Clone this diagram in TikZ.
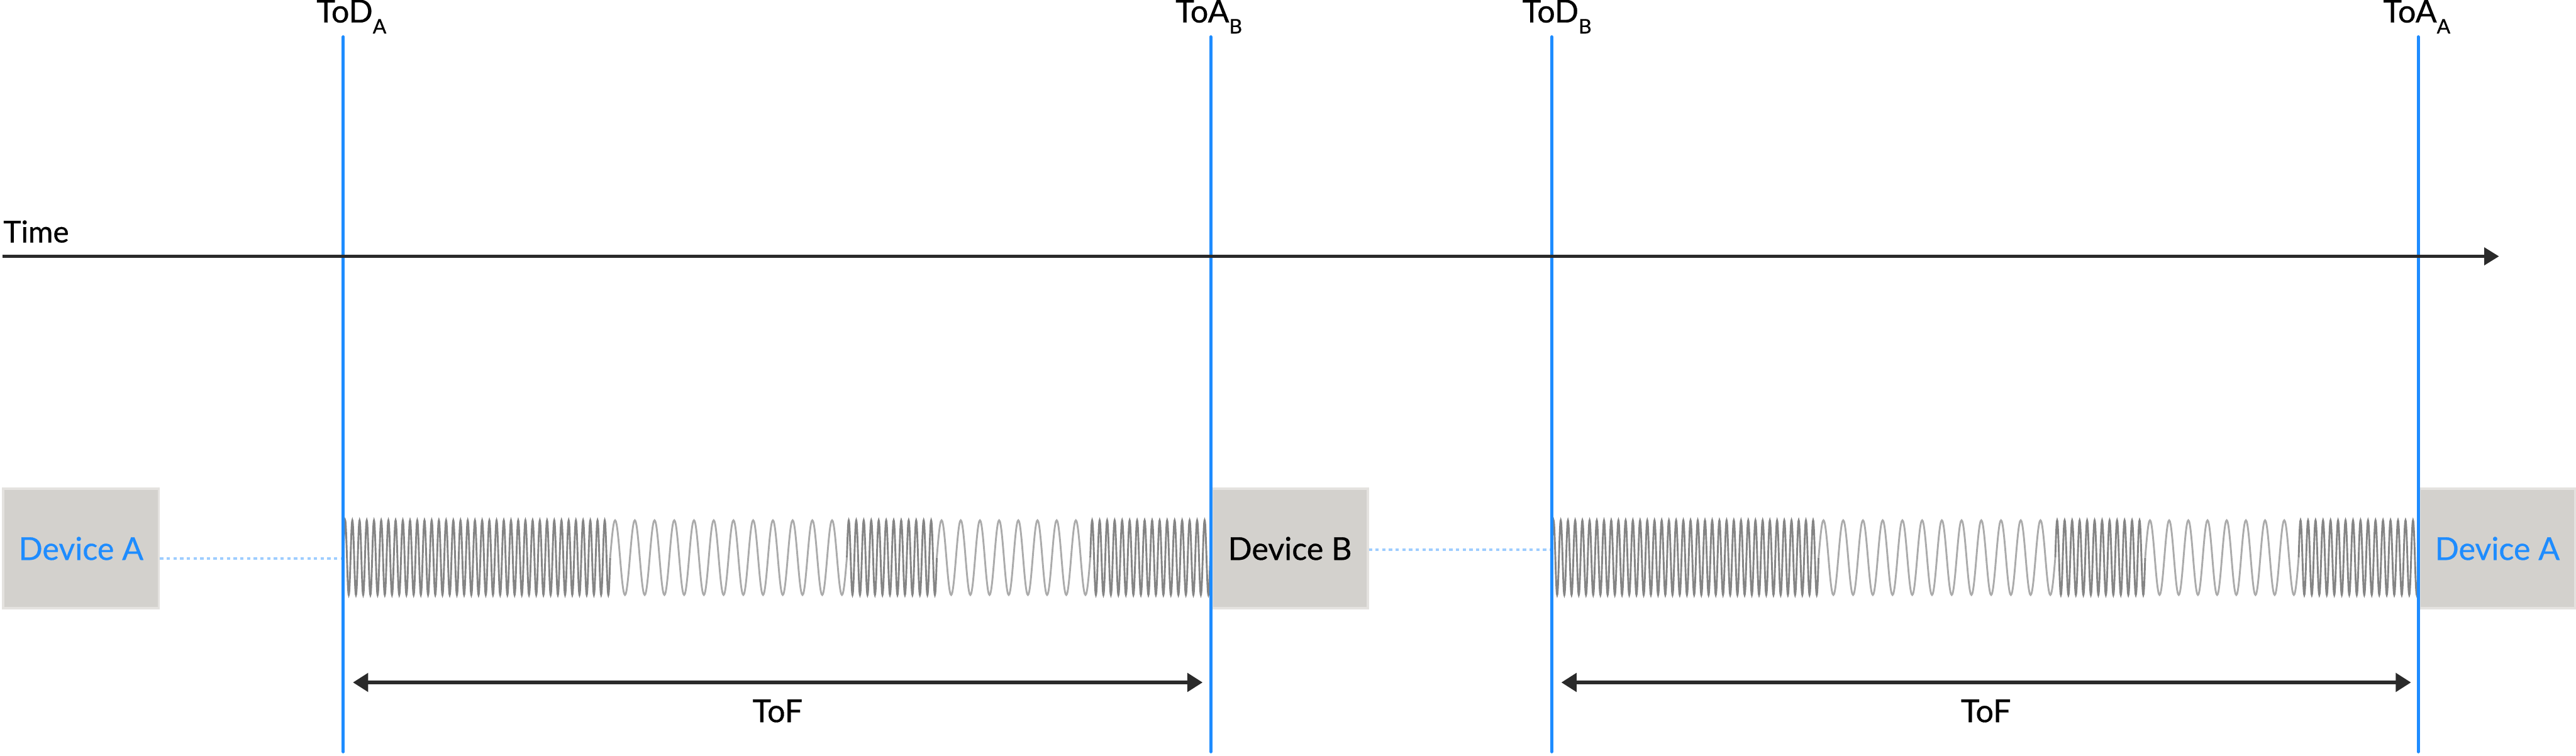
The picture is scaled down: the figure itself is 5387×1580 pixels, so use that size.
\documentclass[tikz,border=0pt]{standalone}
\usepackage{fontspec}
\setmainfont{Lato}[FakeBold=0.6]
\usetikzlibrary{arrows.meta}
\definecolor{tblue}{HTML}{1E8CFF}
\definecolor{dotblue}{HTML}{9ECDFF}
\definecolor{boxgray}{HTML}{D3D1CD}
\definecolor{boxedge}{HTML}{E4E2DF}
\definecolor{densegray}{HTML}{858585}
\definecolor{sparsegray}{HTML}{ABABAB}
\definecolor{axisgray}{HTML}{2A2A2A}
\newcommand{\lblsub}[1]{\raisebox{-2.3pt}{\fontsize{4.2pt}{5pt}\selectfont #1}}
\tikzset{
  lbl/.style={inner sep=0pt, font=\fontsize{6.6pt}{8pt}\selectfont, text=black},
  timelbl/.style={inner sep=0pt, font=\fontsize{6.3pt}{8pt}\selectfont, text=black},
  devbox/.style={rectangle, fill=boxgray, draw=boxedge, line width=0.5pt,
    minimum width=32.5pt, minimum height=25pt, inner sep=0pt,
    font=\fontsize{6.6pt}{8pt}\selectfont},
  vline/.style={draw=tblue, line width=0.65pt, line cap=round},
  axisline/.style={draw=axisgray, line width=0.7pt, -{Triangle[length=3.1pt,width=3.6pt]}},
  tofline/.style={draw=axisgray, line width=0.8pt, {Triangle[length=3.2pt,width=3.8pt]}-{Triangle[length=3.2pt,width=3.8pt]}},
  dotline/.style={draw=dotblue, line width=0.5pt, dash pattern=on 0.7pt off 0.7pt},
  densewave/.style={draw=densegray, line width=0.38pt},
  sparsewave/.style={draw=sparsegray, line width=0.38pt}
}
\begin{document}
\begin{tikzpicture}[x=0.1pt,y=-0.1pt]
\useasboundingbox (0,0) rectangle (5387,1580);

% waveforms (dense / sparse segments)
\foreach \s in {718,3245}{
  \draw[densewave] (\s,1166)
    foreach \k in {1,...,37}{ sin ++(3.770,-78) cos ++(3.770,78) sin ++(3.770,78) cos ++(3.770,-78) };
  \draw[sparsewave] (\s+558,1166)
    foreach \k in {1,...,12}{ sin ++(10.3125,-78) cos ++(10.3125,78) sin ++(10.3125,78) cos ++(10.3125,-78) };
  \draw[densewave] (\s+1053,1166)
    foreach \k in {1,...,12}{ sin ++(3.9167,-78) cos ++(3.9167,78) sin ++(3.9167,78) cos ++(3.9167,-78) };
  \draw[sparsewave] (\s+1241,1166)
    foreach \k in {1,...,8}{ sin ++(10.03,-78) cos ++(10.03,78) sin ++(10.03,78) cos ++(10.03,-78) };
  \draw[densewave] (\s+1562,1166)
    foreach \k in {1,...,16}{ sin ++(3.92,-78) cos ++(3.92,78) sin ++(3.92,78) cos ++(3.92,-78) };
}

% device boxes
\node[devbox, text=tblue] (devA1) at (169.5,1147) {Device A};
\node[devbox, text=black] (devB) at (2697.5,1147) {Device B};
\node[devbox, text=tblue] (devA2) at (5222.5,1147) {Device A};

% vertical marker lines
\coordinate (tA1) at (718,77);   \coordinate (bA1) at (718,1572);
\coordinate (tB1) at (2532,77);  \coordinate (bB1) at (2532,1572);
\coordinate (tB2) at (3245,77);  \coordinate (bB2) at (3245,1572);
\coordinate (tA2) at (5057,77);  \coordinate (bA2) at (5057,1572);

% dotted links
\coordinate (yA) at (0,1168);
\coordinate (yB) at (0,1149);
\draw[dotline] (devA1.east |- yA) -- (tA1 |- yA);
\draw[dotline] (devB.east |- yB) -- (tB2 |- yB);

\draw[vline] (tA1) -- (bA1);
\draw[vline] (tB1) -- (bB1);
\draw[vline] (tB2) -- (bB2);
\draw[vline] (tA2) -- (bA2);

% labels
\node[lbl, anchor=base] (lToDA) at (735,47) {ToD\lblsub{A}};
\node[lbl, anchor=base] (lToAB) at (2528,47) {ToA\lblsub{B}};
\node[lbl, anchor=base] (lToDB) at (3256,47) {ToD\lblsub{B}};
\node[lbl, anchor=base] (lToAA) at (5054,47) {ToA\lblsub{A}};

% time axis
\node[timelbl, anchor=base west] (time) at (5,507) {Time};
\coordinate (axs) at (5,536);
\coordinate (axe) at (5226,536);
\draw[axisline] (axs) -- (axe);

% ToF arrows
\coordinate (f1s) at (738,1427);  \coordinate (f1e) at (2515,1427);
\coordinate (f2s) at (3265,1427); \coordinate (f2e) at (5042,1427);
\draw[tofline] (f1s) -- (f1e);
\draw[tofline] (f2s) -- (f2e);
\node[lbl, anchor=base] (tof1) at (1626,1510) {ToF};
\node[lbl, anchor=base] (tof2) at (4153,1510) {ToF};
\end{tikzpicture}
\end{document}
